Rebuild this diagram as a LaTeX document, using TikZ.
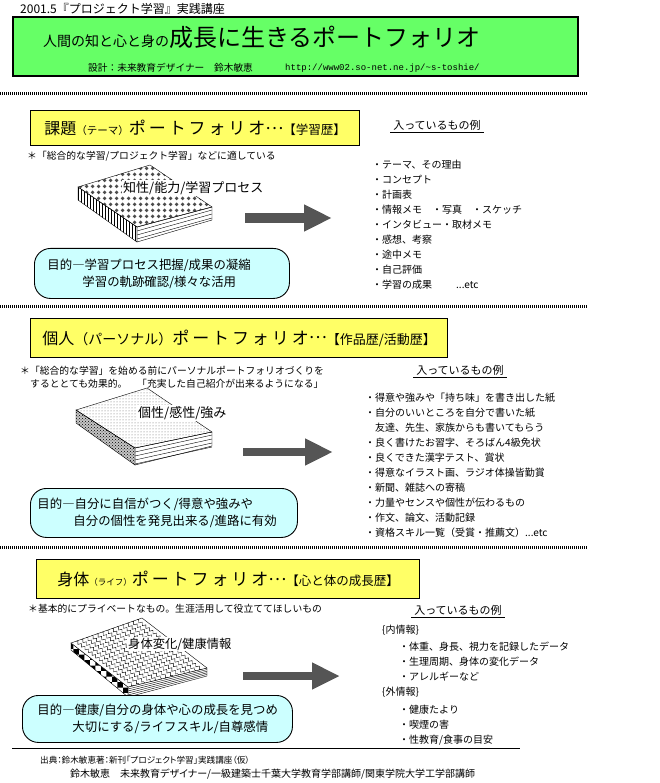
\documentclass[tikz,border=0pt]{standalone}
\usepackage{fontspec}
\setmainfont{Noto Sans CJK JP}
\newfontfamily\urlfont{Liberation Mono}
\newcommand{\wide}[1]{{\addfontfeature{LetterSpace=17}#1}}
\newcommand{\prop}{\addfontfeature{RawFeature=+palt}}
\newcommand{\dotsetc}{...etc}
\newcommand{\middots}{\raisebox{0.32em}{…}}
\usetikzlibrary{patterns,arrows.meta,decorations.pathmorphing,calc}
\definecolor{titlegreen}{HTML}{66FF66}
\definecolor{headyellow}{HTML}{FFFF66}
\definecolor{aimcyan}{HTML}{CCFFFF}
\definecolor{arrowgray}{HTML}{555555}
\pgfdeclarepatternformonly{diamonds}{\pgfqpoint{0pt}{0pt}}{\pgfqpoint{6pt}{6pt}}{\pgfqpoint{6pt}{6pt}}{%
  \pgfpathmoveto{\pgfqpoint{3pt}{0.8pt}}%
  \pgfpathlineto{\pgfqpoint{5.2pt}{3pt}}%
  \pgfpathlineto{\pgfqpoint{3pt}{5.2pt}}%
  \pgfpathlineto{\pgfqpoint{0.8pt}{3pt}}%
  \pgfpathclose\pgfusepath{fill}}

\begin{document}
\begin{tikzpicture}[x=1pt,y=-1pt,
  sechead/.style={draw, line width=1.3pt, fill=headyellow, anchor=north west, inner sep=0pt},
  aimbox/.style={draw, line width=0.9pt, fill=aimcyan, rounded corners=16pt, anchor=north west,
    align=left, inner ysep=0pt, font=\fontsize{12.4}{17}\selectfont},
  note/.style={anchor=west, inner sep=0pt, align=left, font=\fontsize{9.8}{13.5}\selectfont},
  booklabel/.style={anchor=west, fill=white, inner sep=1pt},
  listhead/.style={inner xsep=3pt, inner ysep=1.5pt, font=\fontsize{11}{11}\selectfont},
  listitem/.style={anchor=west, inner sep=0pt, font=\fontsize{10}{10}\selectfont},
  sepline/.style={line width=3pt, dash pattern=on 1pt off 1pt},
  fatarrow/.style={arrowgray, line width=#1, -{Triangle[width=25pt,length=28pt]}},
  wavy/.style={decorate, decoration={zigzag, segment length=4.5pt, amplitude=1.4pt}}]
\useasboundingbox (0,0) rectangle (660,783);

% title block
\node[anchor=west, inner sep=0pt, font=\fontsize{12}{12}\selectfont] (course) at (20,9) {2001.5『プロジェクト学習』実践講座};
\draw[line width=2.5pt, fill=titlegreen] (13,17) rectangle (578,76);
\node[anchor=base west, inner sep=0pt] (title) at (43,47) {{\fontsize{14}{14}\selectfont 人間の知と心と身の}{\fontsize{24}{24}\selectfont 成長に生きるポートフォリオ}};
\node[anchor=west, inner sep=0pt, font=\fontsize{9.7}{9.7}\selectfont] (design) at (88,68) {設計：未来教育デザイナー　鈴木敏恵};
\node[anchor=west, inner sep=0pt, font=\urlfont\fontsize{9}{9}\selectfont] (url) at (285,68) {http://www02.so-net.ne.jp/\char`\~s-toshie/};

\foreach \y in {94,306,547}
{
\draw[sepline] (0,\y) -- (587,\y);
}

% section 1
\node[sechead, minimum width=329, minimum height=35] (head1) at (30,110) {{\fontsize{16}{16}\selectfont 課題}{\fontsize{10.5}{10.5}\selectfont （テーマ）}{\fontsize{17}{17}\selectfont\wide{ポートフォリオ\middots}}{\fontsize{12.5}{12.5}\selectfont 【学習歴】}};
\node[note] (note1) at (27,156) {＊「総合的な学習/プロジェクト学習」などに適している};
\coordinate (b1a) at (78,187); \coordinate (b1b) at (150,165);
\coordinate (b1c) at (212,207); \coordinate (b1d) at (137,227);
\draw[fill=white] (b1d) -- (b1c) -- ($(b1c)+(0,13)$) -- ($(b1d)+(0,15)$) -- cycle;
\foreach \k in {4,8,12} \draw ($(b1d)+(0,\k)$) -- ($(b1c)+(0,\k-1)$);
\draw[pattern=vertical lines] (b1a) -- (b1d) -- ($(b1d)+(0,15)$) -- ($(b1a)+(0,13)$) -- cycle;
\draw[pattern=diamonds, pattern color=gray!60!black] (b1a) -- (b1b) -- (b1c) -- (b1d) -- cycle;
\node[booklabel, font=\fontsize{13}{13}\selectfont] (label1) at (122,188) {知性/能力/学習プロセス};
\coordinate (arr1s) at (245,218); \coordinate (arr1e) at (332,218);
\draw[fatarrow=10pt] (arr1s) -- (arr1e);
\node[aimbox, text width=229, inner xsep=13, minimum height=50] (aim1) at (34,248) {目的―学習プロセス把握/成果の凝縮\\\hspace*{35pt}学習の軌跡確認/様々な活用};
\node[listhead] (lh1) at (437,125) {入っているもの例};
\draw (lh1.south west) -- (lh1.south east);
\foreach \t [count=\i] in {・テーマ、その理由, ・コンセプト, ・計画表, ・情報メモ　・写真　・スケッチ, ・インタビュー・取材メモ, ・感想、考察, ・途中メモ, ・自己評価, ・学習の成果\hspace{24pt}\dotsetc}
{
\node[listitem] (l1-\i) at (372,150+15*\i) {\t};
}

% section 2
\node[sechead, minimum width=417, minimum height=39] (head2) at (30,318) {{\fontsize{16}{16}\selectfont 個人}{\fontsize{14}{14}\selectfont （パーソナル）}{\fontsize{17}{17}\selectfont\wide{ポートフォリオ\middots}}{\fontsize{13}{13}\selectfont 【作品歴/活動歴】}};
\node[note] (note2) at (20,377.5) {＊「総合的な学習」を始める前にパーソナルポートフォリオづくりを\\\hspace*{10pt}するととても効果的。　「充実した自己紹介が出来るようになる」};
\coordinate (b2a) at (76,410); \coordinate (b2b) at (147,388);
\coordinate (b2c) at (212,432); \coordinate (b2d) at (135,448);
\draw[fill=white] (b2d) -- (b2c) -- ($(b2c)+(0,14)$) -- ($(b2d)+(0,17)$) -- cycle;
\foreach \k in {4,8,12,16} \draw ($(b2d)+(0,\k)$) -- ($(b2c)+(0,\k-1)$);
\fill[gray!45] (b2a) -- (b2d) -- ($(b2d)+(0,17)$) -- ($(b2a)+(0,13)$) -- cycle;
\draw[pattern=crosshatch dots] (b2a) -- (b2d) -- ($(b2d)+(0,17)$) -- ($(b2a)+(0,13)$) -- cycle;
\draw[pattern=dots, pattern color=gray!80!black] (b2a) -- (b2b) -- (b2c) -- (b2d) -- cycle;
\node[booklabel, font=\fontsize{13}{13}\selectfont] (label2) at (137,413) {個性/感性/強み};
\coordinate (arr2s) at (243,452); \coordinate (arr2e) at (333,452);
\draw[fatarrow=8pt] (arr2s) -- (arr2e);
\node[aimbox, text width=253, inner xsep=7, minimum height=49] (aim2) at (30,488) {目的―自分に自信がつく/得意や強みや\\\hspace*{36pt}自分の個性を発見出来る/進路に有効};
\node[listhead] (lh2) at (460,370) {入っているもの例};
\draw (lh2.south west) -- (lh2.south east);
\foreach \t [count=\i] in {・得意や強みや「持ち味」を書き出した紙, ・自分のいいところを自分で書いた紙, 　友達、先生、家族からも書いてもらう, ・良く書けたお習字、そろばん4級免状, ・良くできた漢字テスト、賞状, ・得意なイラスト画、ラジオ体操皆勤賞, ・新聞、雑誌への寄稿, ・力量やセンスや個性が伝わるもの, ・作文、論文、活動記録, ・資格スキル一覧（受賞・推薦文）\dotsetc}
{
\node[listitem] (l2-\i) at (365,383+15*\i) {\t};
}

% section 3
\node[sechead, minimum width=383, minimum height=39] (head3) at (36,559) {{\fontsize{16}{16}\selectfont 身体}{\fontsize{8.5}{8.5}\selectfont （ライフ）}{\fontsize{17}{17}\selectfont\wide{ポートフォリオ\middots}}{\fontsize{12.5}{12.5}\selectfont 【心と体の成長歴】}};
\node[note] (note3) at (28,609) {＊基本的にプライベートなもの。生涯活用して役立ててほしいもの};
\coordinate (b3a) at (71,643); \coordinate (b3b) at (142,618);
\coordinate (b3c) at (207,668); \coordinate (b3d) at (128,687);
\draw[fill=white] (b3d) -- (b3c) -- ($(b3c)+(0,8)$) -- ($(b3d)+(0,10)$) -- cycle;
\foreach \k in {2,4,6,8} \draw ($(b3d)+(0,\k)$) -- ($(b3c)+(0,\k*0.8)$);
\draw[pattern=checkerboard] (b3a) -- (b3d) -- ($(b3d)+(0,10)$) -- ($(b3a)+(0,7)$) -- cycle;
\begin{scope}
\clip (b3a) -- (b3b) -- (b3c) -- (b3d) -- cycle;
\fill[white] (b3a) -- (b3b) -- (b3c) -- (b3d) -- cycle;
\foreach \s in {1,...,13} \draw[wavy] ($(b3a)!\s/14!(b3b)$) -- ($(b3d)!\s/14!(b3c)$);
\end{scope}
\draw (b3a) -- (b3b) -- (b3c) -- (b3d) -- cycle;
\node[booklabel, font=\fontsize{12.3}{12.3}\selectfont] (label3) at (127,644) {身体変化/健康情報};
\coordinate (arr3s) at (243,676); \coordinate (arr3e) at (340,676);
\draw[fatarrow=8pt] (arr3s) -- (arr3e);
\node[aimbox, text width=240, inner xsep=15, minimum height=47] (aim3) at (22,695) {目的―健康/自分の身体や心の成長を見つめ\\\hspace*{35pt}大切にする/ライフスキル/自尊感情};
\node[listhead] (lh3) at (458,610) {入っているもの例};
\draw (lh3.south west) -- (lh3.south east);
\node[listitem] (inner) at (382,630) {\{内情報\}};
\node[listitem] (outer) at (382,692) {\{外情報\}};
\foreach \y/\t [count=\i] in {647/{・体重、身長、視力を記録したデータ}, 662/{・生理周期、身体の変化データ}, 677/{・アレルギーなど}, 710/{・健康たより}, 725/{・喫煙の害}, 740/{・性教育/食事の目安}}
{
\node[listitem] (l3-\i) at (399,\y) {\t};
}

% source
\draw[line width=1pt] (12,748) -- (520,748);
\node[anchor=west, inner sep=0pt, font=\fontsize{8.6}{8.6}\selectfont\prop] (source) at (40,760) {出典：鈴木敏恵著：新刊「プロジェクト学習」実践講座（仮）};
\node[anchor=west, inner sep=0pt, font=\fontsize{10}{10}\selectfont\prop] (author) at (70,774) {鈴木敏恵　未来教育デザイナー/一級建築士千葉大学教育学部講師/関東学院大学工学部講師};
\end{tikzpicture}
\end{document}
